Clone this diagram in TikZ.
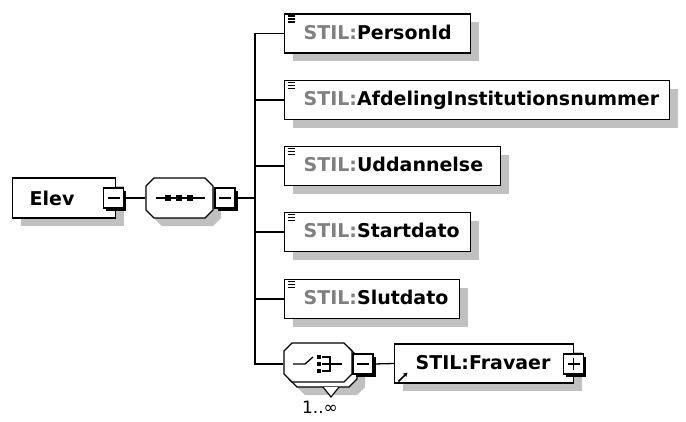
\documentclass[tikz,border=0pt]{standalone}
\usepackage{fontspec}
\newfontfamily\dv{DejaVu Sans}
\usetikzlibrary{shadows,arrows.meta}
\definecolor{stilgray}{RGB}{128,128,128}
\definecolor{shd}{RGB}{192,192,192}
% octagon outline: x1,y1,x2,y2,chamfer
\newcommand\myoct[5]{(#1+#5,#2) -- (#3-#5,#2) -- (#3,#2+#5) -- (#3,#4-#5) -- (#3-#5,#4) -- (#1+#5,#4) -- (#1,#4-#5) -- (#1,#2+#5) -- cycle}
\begin{document}
\begin{tikzpicture}[x=1pt,y=-1pt,
  line width=1.3pt,
  elem/.style={draw, fill=white, rectangle, inner sep=0pt, minimum height=39pt, anchor=west,
    general shadow={fill=shd, draw=none, shadow xshift=8pt, shadow yshift=-8pt}},
  octshape/.style={draw, fill=white, line width=1.3pt},
  octshadow/.style={fill=shd, draw=none},
  togglebox/.style={draw, fill=white, rectangle, inner sep=0pt, minimum size=20pt, line width=1.1pt,
    general shadow={fill=black, draw=none, shadow xshift=2.5pt, shadow yshift=-2.5pt}},
  minusbox/.style={togglebox, path picture={
    \draw[line width=1.1pt] ([xshift=4pt]path picture bounding box.west) -- ([xshift=-4pt]path picture bounding box.east);}},
  plusbox/.style={togglebox, path picture={
    \draw[line width=1.1pt] ([xshift=4pt]path picture bounding box.west) -- ([xshift=-4pt]path picture bounding box.east);
    \draw[line width=1.1pt] ([yshift=-4pt]path picture bounding box.north) -- ([yshift=4pt]path picture bounding box.south);}},
  lbl/.style={anchor=base west, inner sep=0pt, font=\dv\bfseries\fontsize{19}{19}\selectfont},
  conn/.style={draw, line width=1.3pt},
  stmark/.style={line width=1.3pt}
]
\useasboundingbox[fill=white] (0,0) rectangle (686,421);

% root element
\node[elem, minimum width=103pt, minimum height=40pt] (elev) at (12,198) {};
\node[lbl] (elevtxt) at (29,205) {Elev};
\node[minusbox] (elevminus) at (113.5,198) {};

% sequence compositor
\fill[octshadow] \myoct{154}{186}{221}{226}{8};
\draw[octshape] \myoct{146}{178}{213}{218}{8};
\node[inner sep=0pt, minimum width=67pt, minimum height=40pt] (seq) at (179.5,198) {};
\draw (156,198) -- (205,198);
\foreach \sx in {168,179,190} \fill (\sx-2.75,195.25) rectangle +(5.5,5.5);
\node[minusbox] (seqminus) at (225,198) {};
\draw[conn] (elevminus.east) -- (seq.west);

\coordinate (j) at (255,198);
\draw[conn] (seqminus.east) -- (j);

% child elements
\node[elem, minimum width=186pt] (pid) at (284,33.5) {};
\node[lbl] (pidtxt) at (303,39) {\textcolor{stilgray}{STIL:}PersonId};
\node[elem, minimum width=385pt] (afd) at (284,100) {};
\node[lbl] (afdtxt) at (303,105.5) {\textcolor{stilgray}{STIL:}AfdelingInstitutionsnummer};
\node[elem, minimum width=216pt] (udd) at (284,166) {};
\node[lbl] (uddtxt) at (303,171.5) {\textcolor{stilgray}{STIL:}Uddannelse};
\node[elem, minimum width=186pt] (start) at (284,232) {};
\node[lbl] (starttxt) at (303,237.5) {\textcolor{stilgray}{STIL:}Startdato};
\node[elem, minimum width=175pt] (slut) at (284,299) {};
\node[lbl] (sluttxt) at (303,304.5) {\textcolor{stilgray}{STIL:}Slutdato};

% "simple type" marks
\foreach \n in {pid,afd,udd,start,slut}{
  \draw[stmark] ([xshift=4pt,yshift=-2.5pt]\n.north west) -- +(7,0);
  \draw[stmark] ([xshift=4pt,yshift=-5.5pt]\n.north west) -- +(7,0);
  \draw[stmark] ([xshift=4pt,yshift=-8.5pt]\n.north west) -- +(7,0);
}

% choice compositor (1..inf)
\fill[octshadow] \myoct{297}{356}{365}{395}{8};
\draw[octshape] \myoct{289}{348}{357}{387}{8};
\draw[octshape] \myoct{284}{343}{352}{382}{8};
\node[inner sep=0pt, minimum width=68pt, minimum height=39pt] (choice) at (318,362.5) {};
\draw[fill=white, line width=1.1pt] (323,387) -- (331,397) -- (339,387);
\draw (293,364) -- (305,364) -- (313,357);
\foreach \sy in {357,364,371} \fill (317,\sy-2) rectangle +(4,4);
\draw[line width=1.1pt] (322,357) -- (330,357) -- (330,371) -- (322,371);
\draw[line width=1.1pt] (322,364) -- (342,364);
\node[minusbox] (choiceminus) at (363,364) {};
\node[anchor=base, inner sep=0pt, font=\dv\fontsize{17}{17}\selectfont] (occ) at (320,413) {1..∞};

% referenced element
\node[elem, minimum width=179pt] (frav) at (394,363.5) {};
\node[lbl] (fravtxt) at (415,369) {STIL:Fravaer};
\node[plusbox] (fravplus) at (573.5,364) {};
\draw[-{Stealth[length=4.5pt,width=5pt]}, line width=1.5pt] (398.5,381.5) -- (407.5,372.5);

% connectors
\foreach \n in {pid,afd,udd,start,slut}{
  \draw[conn] (j) |- (\n.west);
}
\draw[conn] (j) |- (choice.west |- choiceminus.west);
\draw[conn] (choiceminus.east) -- (frav.west);
\end{tikzpicture}
\end{document}
